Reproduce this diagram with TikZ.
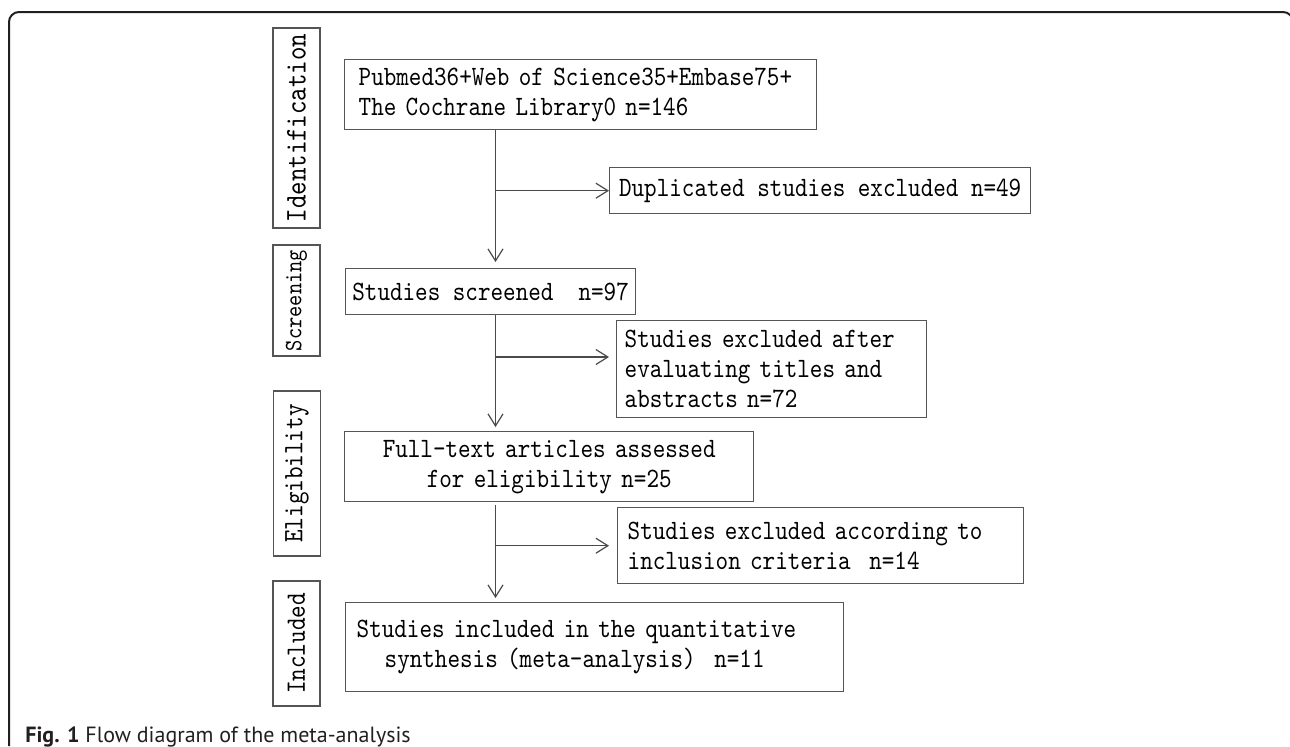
\documentclass[tikz,border=0pt]{standalone}
\usepackage{fontspec}
\usetikzlibrary{arrows.meta}
\newfontfamily\flowmono{lmmono10-regular.otf}[FakeStretch=0.855]
\newfontfamily\capsans{PT Sans}
\definecolor{framedark}{HTML}{231F20}
\definecolor{boxgray}{HTML}{555555}
\definecolor{linegray}{HTML}{4A4A4A}

\begin{document}
\begin{tikzpicture}[x=0.5pt, y=-0.5pt,
  stepbox/.style={draw=boxgray, line width=0.7pt, anchor=north west, align=left, inner ysep=0pt,
    font=\flowmono\fontsize{14pt}{15pt}\selectfont},
  phasebox/.style={draw=boxgray, line width=0.7pt, rotate=90, inner sep=0pt, minimum height=23.5pt,
    font=\flowmono\fontsize{14pt}{16pt}\selectfont},
  flow/.style={draw=linegray, line width=0.6pt, -{Straight Barb[length=6pt,width=7.5pt]}}]
  \useasboundingbox (0,0) rectangle (1290,746);
  \draw[framedark, line width=1pt, rounded corners=5pt] (9,746) |- (1293,12) -- (1293,746);

  \node[phasebox, minimum width=100pt, font=\flowmono\fontsize{15pt}{16pt}\selectfont] (ident) at (296.5,128) {Identification};
  \node[phasebox, minimum width=55.5pt, font=\flowmono\fontsize{12.5pt}{14pt}\selectfont] (screen) at (296.5,300.5) {Screening};
  \node[phasebox, minimum width=82.5pt] (elig) at (297,473.5) {Eligibility};
  \node[phasebox, minimum width=62.5pt] (incl) at (296.5,643.5) {Included};

  \node[stepbox, text width=222pt, inner xsep=7pt, minimum height=35pt] (search) at (344,59)
    {Pubmed36+Web of Science35+Embase75+\\The Cochrane Library0 n=146};
  \node[stepbox, minimum width=210.5pt, minimum height=23pt] (dup) at (609,167)
    {Duplicated studies excluded n=49};
  \node[stepbox, minimum width=143.5pt, minimum height=23pt] (screened) at (345,268)
    {Studies screened~~n=97};
  \node[stepbox, text width=147pt, inner xsep=4pt, minimum height=48.5pt] (excl2) at (616,320)
    {Studies excluded after\\evaluating titles and\\abstracts n=72};
  \node[stepbox, align=center, text width=194.5pt, inner xsep=5pt, minimum height=35pt] (fulltext) at (344,431)
    {Full-text articles assessed\\for eligibility n=25};
  \node[stepbox, text width=193pt, inner xsep=5pt, minimum height=38pt] (excl3) at (617,507)
    {Studies excluded according to\\inclusion criteria~~n=14};
  \node[stepbox, text width=238pt, inner xsep=5.5pt, minimum height=44.5pt] (included) at (345,602)
    {Studies included in the quantitative\\\hspace*{14pt}synthesis (meta-analysis)~~n=11};

  \coordinate (spine) at (495.5,0);
  \coordinate (fork2) at (495.5,357);
  \draw[flow, shorten >=3pt] (search.south -| spine) -- (screened.north -| spine);
  \draw[flow] (spine |- dup.west) -- (dup.west);
  \draw[flow, shorten >=2pt] (screened.south -| spine) -- (fulltext.north -| spine);
  \draw[flow, shorten >=3.5pt] (fork2) -- (fork2 -| excl2.west);
  \draw[flow, shorten <=1.5pt, shorten >=2pt] (fulltext.south -| spine) -- (included.north -| spine);
  \draw[flow, shorten >=4pt] (spine |- excl3.west) -- (excl3.west);

  \node[anchor=west, inner sep=0pt, text=framedark, font=\capsans\fontsize{11pt}{13pt}\selectfont] (caption)
    at (25,737) {\textbf{Fig. 1} Flow diagram of the meta-analysis};
\end{tikzpicture}
\end{document}
